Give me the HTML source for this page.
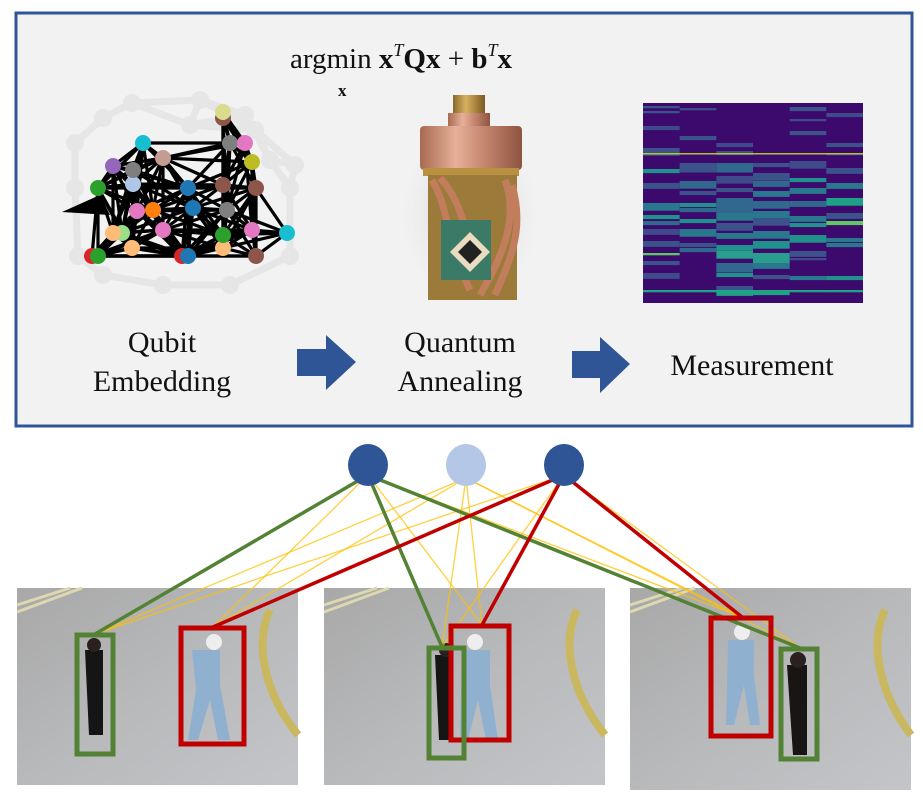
<!DOCTYPE html>
<html><head><meta charset="utf-8"><style>
html,body{margin:0;padding:0;background:#fff;}
body{width:923px;height:799px;overflow:hidden;font-family:"Liberation Serif",serif;}
</style></head><body>
<svg width="923" height="799" viewBox="0 0 923 799" xmlns="http://www.w3.org/2000/svg">
<defs>
<linearGradient id="cu" x1="0" x2="1"><stop offset="0" stop-color="#a86a50"/><stop offset="0.35" stop-color="#e7b09a"/><stop offset="0.6" stop-color="#c98a72"/><stop offset="1" stop-color="#8e5440"/></linearGradient>
<linearGradient id="brass" x1="0" x2="1"><stop offset="0" stop-color="#8a6a2a"/><stop offset="0.4" stop-color="#d8b060"/><stop offset="1" stop-color="#7a5a20"/></linearGradient>
<linearGradient id="road" x1="0" y1="0" x2="1" y2="1"><stop offset="0" stop-color="#a8a8a8"/><stop offset="0.5" stop-color="#b8b9bb"/><stop offset="1" stop-color="#c4c5c8"/></linearGradient>
<radialGradient id="shadow"><stop offset="0" stop-color="#999" stop-opacity="0.6"/><stop offset="1" stop-color="#f2f2f2" stop-opacity="0"/></radialGradient>
</defs>

<rect x="16" y="13" width="896" height="413" fill="#f2f2f2" stroke="#2f5597" stroke-width="3"/>

<text x="290" y="68" font-size="29" fill="#111">argmin <tspan font-weight="bold">x</tspan><tspan font-size="18" font-style="italic" dy="-12">T</tspan><tspan dy="12" font-weight="bold">Qx</tspan> + <tspan font-weight="bold">b</tspan><tspan font-size="18" font-style="italic" dy="-12">T</tspan><tspan dy="12" font-weight="bold">x</tspan></text>
<text x="338" y="96" font-size="17" font-weight="bold" fill="#111">x</text>

<g id="graph"></g>

<g>
<ellipse cx="470" cy="215" rx="75" ry="95" fill="url(#shadow)"/>
<rect x="453" y="95" width="32" height="22" fill="url(#brass)"/>
<rect x="448" y="113" width="42" height="15" fill="url(#cu)"/>
<rect x="420" y="126" width="102" height="44" rx="4" fill="url(#cu)"/>
<rect x="423" y="168" width="96" height="8" fill="#b89040"/>
<rect x="428" y="175" width="89" height="125" fill="#9c7a3a"/>
<path d="M432 180 C450 210,445 240,470 290 M440 178 C465 205,460 230,490 280 M505 180 C520 220,500 260,480 295 M512 185 C525 230,510 260,495 295" stroke="#c27e5c" stroke-width="7" fill="none"/>
<rect x="441" y="220" width="50" height="60" fill="#3c7a68"/>
<polygon points="470,232 490,252 470,272 450,252" fill="#e9dcc0"/>
<polygon points="470,240 482,252 470,264 458,252" fill="#222"/>
</g>

<g id="heat"></g>

<g font-size="30" fill="#111" text-anchor="middle">
<text x="162" y="352">Qubit</text>
<text x="162" y="391">Embedding</text>
<text x="460" y="352">Quantum</text>
<text x="460" y="391">Annealing</text>
<text x="752" y="375">Measurement</text>
</g>
<polygon points="297,349 326,349 326,335 356,362 326,390 326,376 297,376" fill="#2f5597"/>
<polygon points="572,351 600,351 600,337 630,364 600,393 600,378 572,378" fill="#2f5597"/>

<g>
<rect x="17" y="588" width="281" height="197" fill="url(#road)"/>
<path d="M17 605 L70 588 M17 612 L82 588" stroke="#ddd8b0" stroke-width="3"/>
<path d="M270 610 C255 640,262 690,298 735" stroke="#c9b860" stroke-width="8" fill="none"/>
<path d="M85 650 h18 v85 h-14 z" fill="#151515"/><circle cx="94" cy="645" r="7" fill="#2a2020"/>
<path d="M192 650 h28 v35 l10 55 h-12 l-8-40 -12 40 h-10 l8-50 z" fill="#8fb1cf"/><circle cx="214" cy="642" r="8" fill="#eee"/>
</g>
<g>
<rect x="324" y="588" width="281" height="197" fill="url(#road)"/>
<path d="M324 605 L377 588 M324 612 L389 588" stroke="#ddd8b0" stroke-width="3"/>
<path d="M577 610 C562 640,569 690,605 735" stroke="#c9b860" stroke-width="8" fill="none"/>
<path d="M462 650 h28 v35 l8 55 h-12 l-8-40 -10 40 h-8 z" fill="#8fb1cf"/><circle cx="475" cy="642" r="8" fill="#eee"/>
<path d="M435 655 h18 v85 h-14 z" fill="#151515"/><circle cx="446" cy="650" r="7" fill="#2a2020"/>
</g>
<g>
<rect x="630" y="588" width="281" height="202" fill="url(#road)"/>
<path d="M630 605 L683 588 M630 612 L695 588" stroke="#ddd8b0" stroke-width="3"/>
<path d="M885 610 C870 640,877 690,911 735" stroke="#c9b860" stroke-width="8" fill="none"/>
<path d="M728 640 h26 v35 l6 50 h-10 l-6-40 -10 40 h-8 z" fill="#8fb1cf"/><circle cx="742" cy="632" r="8" fill="#eee"/>
<path d="M787 665 h20 v90 h-14 z" fill="#1a1515"/><circle cx="798" cy="660" r="8" fill="#2a2020"/>
</g>

<g id="links"></g>

<g fill="none" stroke-width="5">
<rect x="77" y="635" width="36" height="119" stroke="#548235"/>
<rect x="181" y="628" width="63" height="116" stroke="#c00000"/>
<rect x="451" y="626" width="58" height="114" stroke="#c00000"/>
<rect x="429" y="648" width="35" height="110" stroke="#548235"/>
<rect x="711" y="618" width="60" height="118" stroke="#c00000"/>
<rect x="781" y="649" width="36" height="110" stroke="#548235"/>
</g>

<ellipse cx="368" cy="465" rx="20" ry="21" fill="#2f5597"/>
<ellipse cx="466" cy="465" rx="20" ry="21" fill="#b4c7e7"/>
<ellipse cx="564" cy="465" rx="20" ry="21" fill="#2f5597"/>
</svg>
<script>
var NS="http://www.w3.org/2000/svg";
function mk(p,t,a){var e=document.createElementNS(NS,t);for(var k in a)e.setAttribute(k,a[k]);p.appendChild(e);return e;}
// ---- association edges ----
var nodes=[[368,475],[466,478],[564,475]];
var targets=[[95,634],[213,627],[442,647],[482,625],[742,617],[800,648]];
var thin=[[0,1],[0,3],[0,4],[1,0],[1,1],[1,2],[1,3],[1,4],[1,5],[2,0],[2,2],[2,5]];
var strong=[[0,0,"#548235"],[0,2,"#548235"],[0,5,"#548235"],[2,1,"#c00000"],[2,3,"#c00000"],[2,4,"#c00000"]];
var L=document.getElementById('links');
thin.forEach(function(p){var l=mk(L,'line',{x1:nodes[p[0]][0],y1:nodes[p[0]][1],x2:targets[p[1]][0],y2:targets[p[1]][1],stroke:"#ffc000","stroke-width":1.3,"stroke-opacity":0.75});

});
strong.forEach(function(p){var l=mk(L,'line',{x1:nodes[p[0]][0],y1:nodes[p[0]][1],x2:targets[p[1]][0],y2:targets[p[1]][1],stroke:p[2],"stroke-width":3.5});

});
// ---- embedding graph ----
var G=document.getElementById('graph');
var bg=[[75,143],[103,118],[132,103],[190,125],[270,160],[295,165],[75,188],[290,188],[78,256],[103,275],[163,285],[230,285],[290,256],[255,130],[200,100],[245,115]];
for(var i=0;i<bg.length;i++)for(var j=i+1;j<bg.length;j++){if(Math.abs(bg[i][0]-bg[j][0])+Math.abs(bg[i][1]-bg[j][1])<90){mk(G,'line',{x1:bg[i][0],y1:bg[i][1],x2:bg[j][0],y2:bg[j][1],stroke:"#e6e6e6","stroke-width":7});}}
bg.forEach(function(p){mk(G,'circle',{cx:p[0],cy:p[1],r:9,fill:"#e6e6e6"});});
var qn=[[113,166,"#9467bd"],[98,188,"#2ca02c"],[143,143,"#17becf"],[223,118,"#8c564b"],[223,112,"#dbdb8d"],[252,162,"#bcbd22"],[223,185,"#8c564b"],[153,210,"#ff7f0e"],[137,211,"#e377c2"],[193,208,"#1f77b4"],[188,188,"#1f77b4"],[133,184,"#aec7e8"],[92,256,"#d62728"],[98,256,"#2ca02c"],[182,256,"#d62728"],[188,256,"#1f77b4"],[132,248,"#ffbb78"],[223,248,"#ffbb78"],[163,230,"#e377c2"],[252,230,"#e377c2"],[287,233,"#17becf"],[256,256,"#8c564b"],[256,188,"#8c564b"],[227,210,"#7f7f7f"],[223,235,"#2ca02c"],[122,233,"#98df8a"],[113,233,"#ffbb78"],[163,158,"#c49c94"],[133,170,"#7f7f7f"],[230,143,"#7f7f7f"],[245,143,"#e377c2"]];
for(var i=0;i<qn.length;i++)for(var j=i+1;j<qn.length;j++){var d=Math.abs(qn[i][0]-qn[j][0])+Math.abs(qn[i][1]-qn[j][1]);if(d<100){mk(G,'line',{x1:qn[i][0],y1:qn[i][1],x2:qn[j][0],y2:qn[j][1],stroke:"#000","stroke-width":3.2});}}
mk(G,'polygon',{points:"62,212 100,195 110,215",fill:"#000"});
qn.forEach(function(p){var c=mk(G,'circle',{cx:p[0],cy:p[1],r:8,fill:p[2]});

});
// ---- heatmap ----
var H=document.getElementById('heat');
mk(H,'rect',{x:643,y:103,width:220,height:200,fill:"#3b0a6c"});
var bands=[
 [[3,1,"#3b528b"],[8,1,"#3b528b"],[23,2,"#3e4a89"],[45,4,"#3b528b"],[66,2,"#21918c"],[80,3,"#3b528b"],[100,4,"#2a788e"],[112,2,"#21918c"],[118,2,"#31688e"],[126,3,"#3e4a89"],[138,3,"#3b528b"],[150,1,"#5ec962"],[158,2,"#3b528b"],[170,3,"#3e4a89"],[187,1,"#1fa187"]],
 [[5,1,"#3e4a89"],[33,2,"#3b528b"],[60,5,"#3b528b"],[78,4,"#31688e"],[88,2,"#3b528b"],[100,2,"#21918c"],[105,2,"#31688e"],[116,2,"#21918c"],[126,4,"#2a788e"],[140,2,"#3b528b"],[145,2,"#31688e"],[187,1,"#1fa187"]],
 [[40,2,"#3e4a89"],[48,2,"#3b528b"],[60,5,"#31688e"],[73,4,"#3e4a89"],[85,2,"#3b528b"],[95,10,"#31688e"],[110,4,"#2a788e"],[120,4,"#3b528b"],[130,3,"#2a788e"],[142,3,"#21918c"],[148,4,"#2a9d8f"],[160,5,"#31688e"],[170,2,"#21918c"],[183,2,"#3b528b"],[187,3,"#1fa187"]],
 [[60,2,"#3b528b"],[70,4,"#3b528b"],[78,3,"#31688e"],[88,3,"#2a788e"],[98,4,"#31688e"],[108,4,"#2a788e"],[115,4,"#3b528b"],[128,4,"#2a788e"],[138,4,"#21918c"],[150,6,"#2a9d8f"],[160,3,"#2a788e"],[172,2,"#3b528b"],[188,2,"#1fa187"]],
 [[4,2,"#3b528b"],[16,1,"#3e4a89"],[28,2,"#3b528b"],[58,4,"#3e4a89"],[75,2,"#21918c"],[85,3,"#2a788e"],[98,3,"#31688e"],[113,3,"#2a788e"],[120,2,"#21918c"],[132,4,"#21918c"],[148,3,"#3b528b"],[155,1,"#3e4a89"],[173,2,"#2a788e"],[187,1,"#1fa187"]],
 [[10,2,"#3e4a89"],[40,2,"#3b528b"],[50,1,"#3e4a89"],[65,3,"#3b528b"],[80,3,"#2a788e"],[95,4,"#1fa187"],[110,3,"#3b528b"],[118,2,"#5ec962"],[135,2,"#2a788e"],[140,2,"#2a788e"],[173,2,"#21918c"],[187,1,"#1fa187"]]];
var cw=220/6;
bands.forEach(function(col,ci){col.forEach(function(b){var r=mk(H,'rect',{x:643+ci*cw,y:103+b[0],width:cw,height:b[1]*1.8+0.5,fill:b[2]});

});});
mk(H,'rect',{x:643,y:153,width:220,height:1.5,fill:"#b5c13a"});
mk(H,'rect',{x:643,y:290,width:220,height:1.5,fill:"#20a486"});
</script>
</body></html>
